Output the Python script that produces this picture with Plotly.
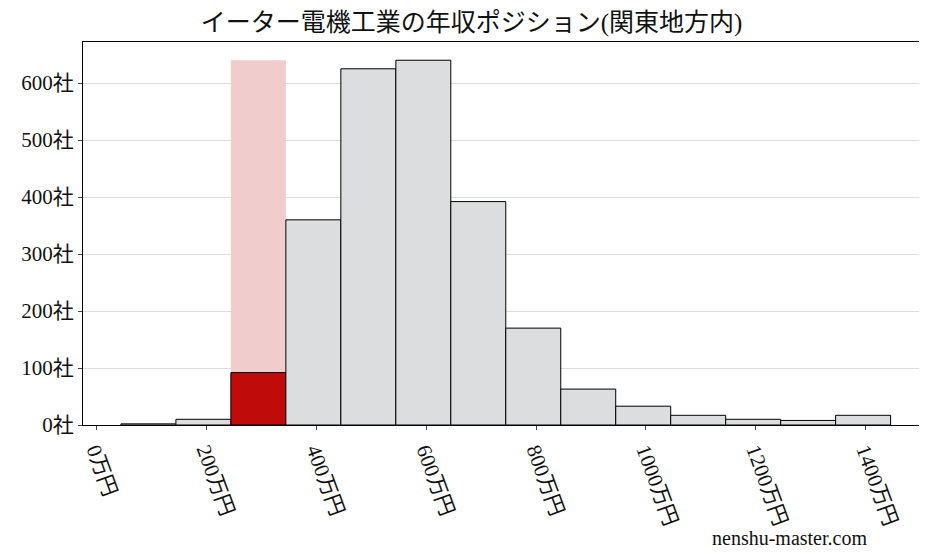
import plotly.graph_objects as go

centers = [95, 195, 295, 395, 495, 595, 695, 795, 895, 995, 1095, 1195, 1295, 1395]
counts = [2, 10, 92, 360, 625, 640, 392, 170, 63, 33, 17, 10, 8, 17]
highlight_index = 2
xtick_vals = [0, 200, 400, 600, 800, 1000, 1200, 1400]
xtick_text = [f"{v}万円" for v in xtick_vals]
ytick_vals = [0, 100, 200, 300, 400, 500, 600]
ytick_text = [f"{v}社" for v in ytick_vals]

colors = ["#dcdddf"] * len(counts)
colors[highlight_index] = "#c00b0b"

fig = go.Figure()
fig.add_bar(x=[centers[highlight_index]], y=[max(counts)], width=100,
            marker=dict(color="#f0cccd", line=dict(width=0)))
fig.add_bar(x=centers, y=counts, width=100,
            marker=dict(color=colors, line=dict(color="#000", width=1)))

font = "Liberation Serif, Noto Sans CJK JP"
fig.update_layout(
    width=927, height=557, showlegend=False, barmode="overlay",
    plot_bgcolor="white", paper_bgcolor="white",
    margin=dict(l=75, r=7, t=34, b=140, autoexpand=False),
    font=dict(family=font, size=21, color="#111"),
    title=dict(text="イーター電機工業の年収ポジション(関東地方内)", x=0.5, xanchor="center",
               y=0.99, yanchor="top", font=dict(size=25)),
    xaxis=dict(range=[-24, 1513], tickvals=xtick_vals, ticktext=xtick_text, tickangle=70,
               showline=True, linecolor="#000", mirror=True, ticks="outside", ticklen=4,
               showgrid=False, zeroline=False, automargin=False),
    yaxis=dict(range=[0, 672], tickvals=ytick_vals, ticktext=ytick_text,
               showline=True, linecolor="#000", mirror=True, ticks="outside", ticklen=4,
               showgrid=True, gridcolor="#dddddd", zeroline=False, automargin=False),
)
fig.add_annotation(text="nenshu-master.com", xref="paper", yref="paper", x=0.93, y=-0.33,
                   showarrow=False, font=dict(size=20))
fig.write_html("out.html")
